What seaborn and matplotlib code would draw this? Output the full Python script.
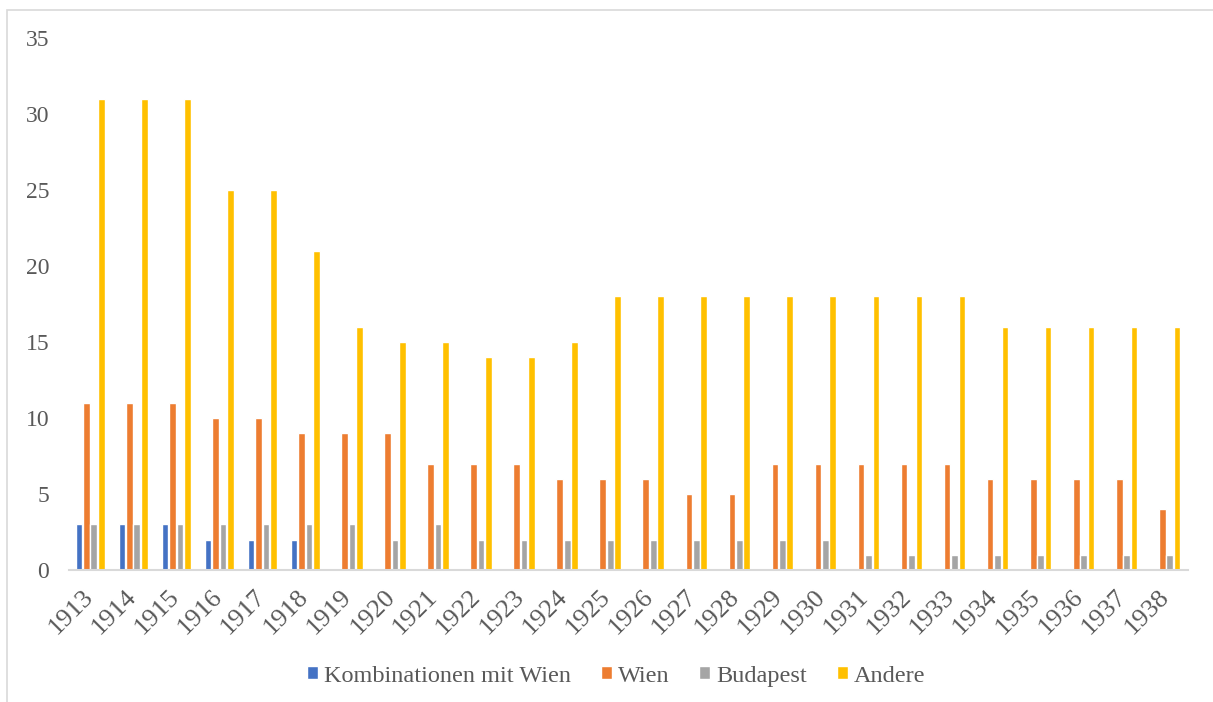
import pandas as pd
import numpy as np
import matplotlib
matplotlib.use('Agg')
import matplotlib.pyplot as plt
import seaborn as sns
from matplotlib.patches import Rectangle

# Data
years = [str(y) for y in range(1913, 1939)]
kombinationen = [3, 3, 3, 2, 2, 2, 0, 0, 0, 0, 0, 0, 0, 0, 0, 0, 0, 0, 0, 0, 0, 0, 0, 0, 0, 0]
wien = [11, 11, 11, 10, 10, 9, 9, 9, 7, 7, 7, 6, 6, 6, 5, 5, 7, 7, 7, 7, 7, 6, 6, 6, 6, 4]
budapest = [3, 3, 3, 3, 3, 3, 3, 2, 3, 2, 2, 2, 2, 2, 2, 2, 2, 2, 1, 1, 1, 1, 1, 1, 1, 1]
andere = [31, 31, 31, 25, 25, 21, 16, 15, 15, 14, 14, 15, 18, 18, 18, 18, 18, 18, 18, 18, 18, 16, 16, 16, 16, 16]
series_names = ['Kombinationen mit Wien', 'Wien', 'Budapest', 'Andere']
colors = ['#4472C4', '#ED7D31', '#A5A5A5', '#FFC000']

df = pd.DataFrame({
    'Jahr': years * 4,
    'Wert': kombinationen + wien + budapest + andere,
    'Serie': [s for s in series_names for _ in years],
})

sns.set_style('white')
plt.rcParams['font.family'] = ['Liberation Serif', 'DejaVu Serif']
text_color = '#595959'

fig = plt.figure(figsize=(12.13, 7.02), dpi=100)
ax = fig.add_axes([0.0565, 0.188, 0.9225, 0.758])

sns.barplot(data=df, x='Jahr', y='Wert', hue='Serie', palette=colors,
            saturation=1, width=0.69, gap=0.1, ax=ax, legend=True)

ax.set_ylim(0, 35)
ax.set_yticks(range(0, 36, 5))
ax.set_xlim(-0.5, len(years) - 0.5)
ax.set_xlabel('')
ax.set_ylabel('')
for side in ['top', 'right', 'left']:
    ax.spines[side].set_visible(False)
ax.spines['bottom'].set_color('#D9D9D9')
ax.spines['bottom'].set_linewidth(1.5)
ax.tick_params(axis='both', length=0, colors=text_color)
ax.tick_params(axis='y', pad=14, labelsize=17)
ax.tick_params(axis='x', pad=17, labelsize=19)
plt.setp(ax.get_xticklabels(), rotation=45, ha='right', va='center',
         rotation_mode='anchor')

handles, labels = ax.get_legend_handles_labels()
ax.legend_.remove()
fig.legend(handles, labels, loc='center', bbox_to_anchor=(0.508, 0.037),
           ncol=4, frameon=False, fontsize=17.5, handlelength=0.45,
           handleheight=0.45, handletextpad=0.25, columnspacing=1.23,
           labelcolor=text_color)

# light frame around the chart area
fig.patches.append(Rectangle((7 / 1213, -0.01), 1.02, 1 - 10 / 702 + 0.01,
                             transform=fig.transFigure, fill=False,
                             edgecolor='#D9D9D9', linewidth=1.2))

fig.savefig('out.png', dpi=100)
